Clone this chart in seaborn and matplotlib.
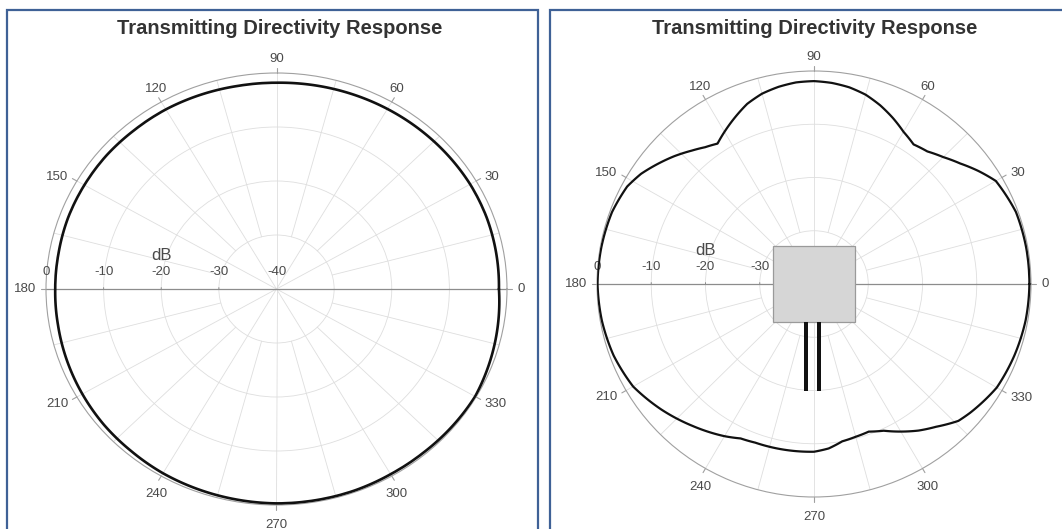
import numpy as np
import pandas as pd
import matplotlib
matplotlib.use("Agg")
import matplotlib.pyplot as plt
from matplotlib.patches import Rectangle
import seaborn as sns

# ---- data -------------------------------------------------------------
title_text = "Transmitting Directivity Response"
angle_ticks = list(range(0, 360, 30))
ring_levels = [-40, -30, -20, -10, 0]

# open-face transducer: nearly omnidirectional
left_angles = list(range(0, 361, 10))
left_db = [-1.4, -1.3, -1.2, -1.2, -1.3, -1.4, -1.5, -1.6, -1.7, -1.8,
           -1.8, -1.7, -1.6, -1.6, -1.5, -1.5, -1.5, -1.6, -1.6, -1.5,
           -1.3, -1.1, -0.9, -0.8, -0.6, -0.5, -0.4, -0.3, -0.3, -0.3,
           -0.4, -0.4, -0.3, -0.2, -0.6, -1.0, -1.4]

# enclosed transducer: lobed pattern
right_angles = [0, 10, 20, 30, 35, 40, 45, 50, 55, 60, 65, 70, 75, 80, 85,
                90, 95, 100, 105, 110, 115, 120, 124, 128, 132, 137, 142,
                147, 152, 160, 170, 180, 190, 200, 210, 220, 230, 240, 245,
                250, 260, 270, 275, 280, 285, 290, 295, 300, 305, 310, 316,
                320, 330, 340, 350, 360]
right_db = [-0.3, -0.3, -0.4, -1.3, -3.0, -4.8, -6.3, -7.5, -8.0, -7.0,
            -5.6, -4.3, -3.2, -2.5, -2.1, -1.9, -2.0, -2.4, -3.0, -4.0,
            -5.5, -7.0, -8.2, -7.4, -6.3, -4.8, -3.4, -2.0, -1.0, -0.4,
            -0.2, -0.1, -0.3, -0.7, -1.5, -3.3, -5.2, -7.0, -8.0, -8.3,
            -8.4, -8.5, -9.0, -10.0, -10.3, -10.5, -9.6, -8.0, -6.4, -5.0,
            -3.0, -2.4, -1.1, -0.7, -0.4, -0.3]

left_df = pd.DataFrame({"theta": np.deg2rad(left_angles), "db": left_db})
right_df = pd.DataFrame({"theta": np.deg2rad(right_angles), "db": right_db})

# ---- style ------------------------------------------------------------
sns.set_theme(style="white")
plt.rcParams["font.family"] = ["Liberation Sans", "DejaVu Sans"]

W, H = 1062, 529
fig = plt.figure(figsize=(W / 100, H / 100), dpi=100)
fig.patch.set_facecolor("white")

GRID = "#dedede"
SPINE = "#a0a0a0"
AXLINE = "#8c8c8c"
TXT = "#4a4a4a"
FRAME = "#3f6196"
PT = 0.72  # points per pixel at 100 dpi


def px_rect(x0, y0, x1, y1):
    """Figure-fraction rectangle from pixel edges (y measured from top)."""
    return [x0 / W, 1 - y1 / H, (x1 - x0) / W, (y1 - y0) / H]


def angle_label(ax, a):
    """Angle label just outside the rim, anchored by its near edge."""
    t = np.deg2rad(a)
    c, s = np.cos(t), np.sin(t)
    ha = "left" if c > 0.6 else ("right" if c < -0.6 else "center")
    va = "bottom" if s > 0.6 else ("top" if s < -0.6 else "center")
    gy = 8 if s > 0 else 14
    ax.annotate(str(a), xy=(t, 0), xytext=(10 * c * PT, gy * s * PT),
                textcoords="offset points", ha=ha, va=va,
                fontsize=9.5, color=TXT, annotation_clip=False)


def polar_panel(rect, df, labels, lw):
    ax = fig.add_axes(rect, projection="polar")
    ax.set_aspect("auto")
    ax.set_ylim(-40, 0)
    ax.set_facecolor("none")

    # angular grid
    ax.set_xticks(np.deg2rad(angle_ticks))
    ax.set_xticklabels([])
    ax.tick_params(axis="x", length=0)
    ax.set_yticks([-30, -20, -10])
    ax.set_yticklabels([])
    ax.grid(True, color=GRID, linewidth=0.6)
    ax.spines["polar"].set_color(SPINE)
    ax.spines["polar"].set_linewidth(0.8)
    for a in angle_ticks:
        angle_label(ax, a)

    # intermediate spokes from the -30 dB ring outward
    for a in range(15, 360, 30):
        t = np.deg2rad(a)
        ax.plot([t, t], [-30, 0], color=GRID, lw=0.6, zorder=1)

    # short outward tick marks on the rim
    for a in angle_ticks:
        t = np.deg2rad(a)
        ax.plot([t, t], [0, 0.9], color=SPINE, lw=0.8, clip_on=False)

    # horizontal 180-0 reference axis with ring ticks
    ax.plot([np.pi, np.pi], [0, -40], color=AXLINE, lw=0.9, zorder=2)
    ax.plot([0, 0], [-40, 0], color=AXLINE, lw=0.9, zorder=2)
    for r in [-30, -20, -10]:
        ax.annotate("", xy=(np.pi, r), xytext=(0, 3), textcoords="offset points",
                    arrowprops=dict(arrowstyle="-", color=AXLINE, lw=0.7))

    # radial scale labels along the left half of the axis
    for r in labels:
        ax.annotate(str(r), xy=(np.pi, r), xytext=(0, 8),
                    textcoords="offset points", ha="center", va="bottom",
                    fontsize=9.5, color=TXT)
    ax.annotate("dB", xy=(np.pi, -20), xytext=(0, 19),
                textcoords="offset points", ha="center", va="bottom",
                fontsize=12, color=TXT)

    sns.lineplot(data=df, x="theta", y="db", ax=ax, sort=False,
                 estimator=None, color="#111111", linewidth=lw, zorder=5)
    # draw the response as smooth arcs between the sampled angles
    ax.lines[-1].get_path()._interpolation_steps = 24
    ax.set_xlabel("")
    ax.set_ylabel("")
    return ax


ax_l = polar_panel(px_rect(46, 73, 507, 505), left_df, [-40, -30, -20, -10, 0], 1.9)
ax_r = polar_panel(px_rect(597, 71, 1031, 497), right_df, [-30, -20, -10, 0], 1.6)

# panel titles
fig.text(280 / W, 1 - 28 / H, title_text, ha="center", va="center",
         fontsize=14.5, fontweight="bold", color="#333333")
fig.text(815 / W, 1 - 28 / H, title_text, ha="center", va="center",
         fontsize=14.5, fontweight="bold", color="#333333")

# panel frames
fig.add_artist(Rectangle((7 / W, -0.05), (538 - 7) / W, 1.05 - 10 / H,
                         transform=fig.transFigure, fill=False,
                         edgecolor=FRAME, lw=1.6, clip_on=False))
fig.add_artist(Rectangle((550 / W, -0.05), (1080 - 550) / W, 1.05 - 10 / H,
                         transform=fig.transFigure, fill=False,
                         edgecolor=FRAME, lw=1.6, clip_on=False))

# transducer sketch in the centre of the right panel
fig.add_artist(Rectangle(px_rect(773, 246, 855, 322)[:2],
                         82 / W, 76 / H, transform=fig.transFigure,
                         facecolor="#d6d6d6", edgecolor="#9a9a9a", lw=0.9,
                         zorder=10))
for x0 in (804, 817):
    r = px_rect(x0, 322, x0 + 4, 391)
    fig.add_artist(Rectangle(r[:2], r[2], r[3], transform=fig.transFigure,
                             facecolor="#111111", edgecolor="none", zorder=10))

fig.savefig("out.png", dpi=100, facecolor="white")
